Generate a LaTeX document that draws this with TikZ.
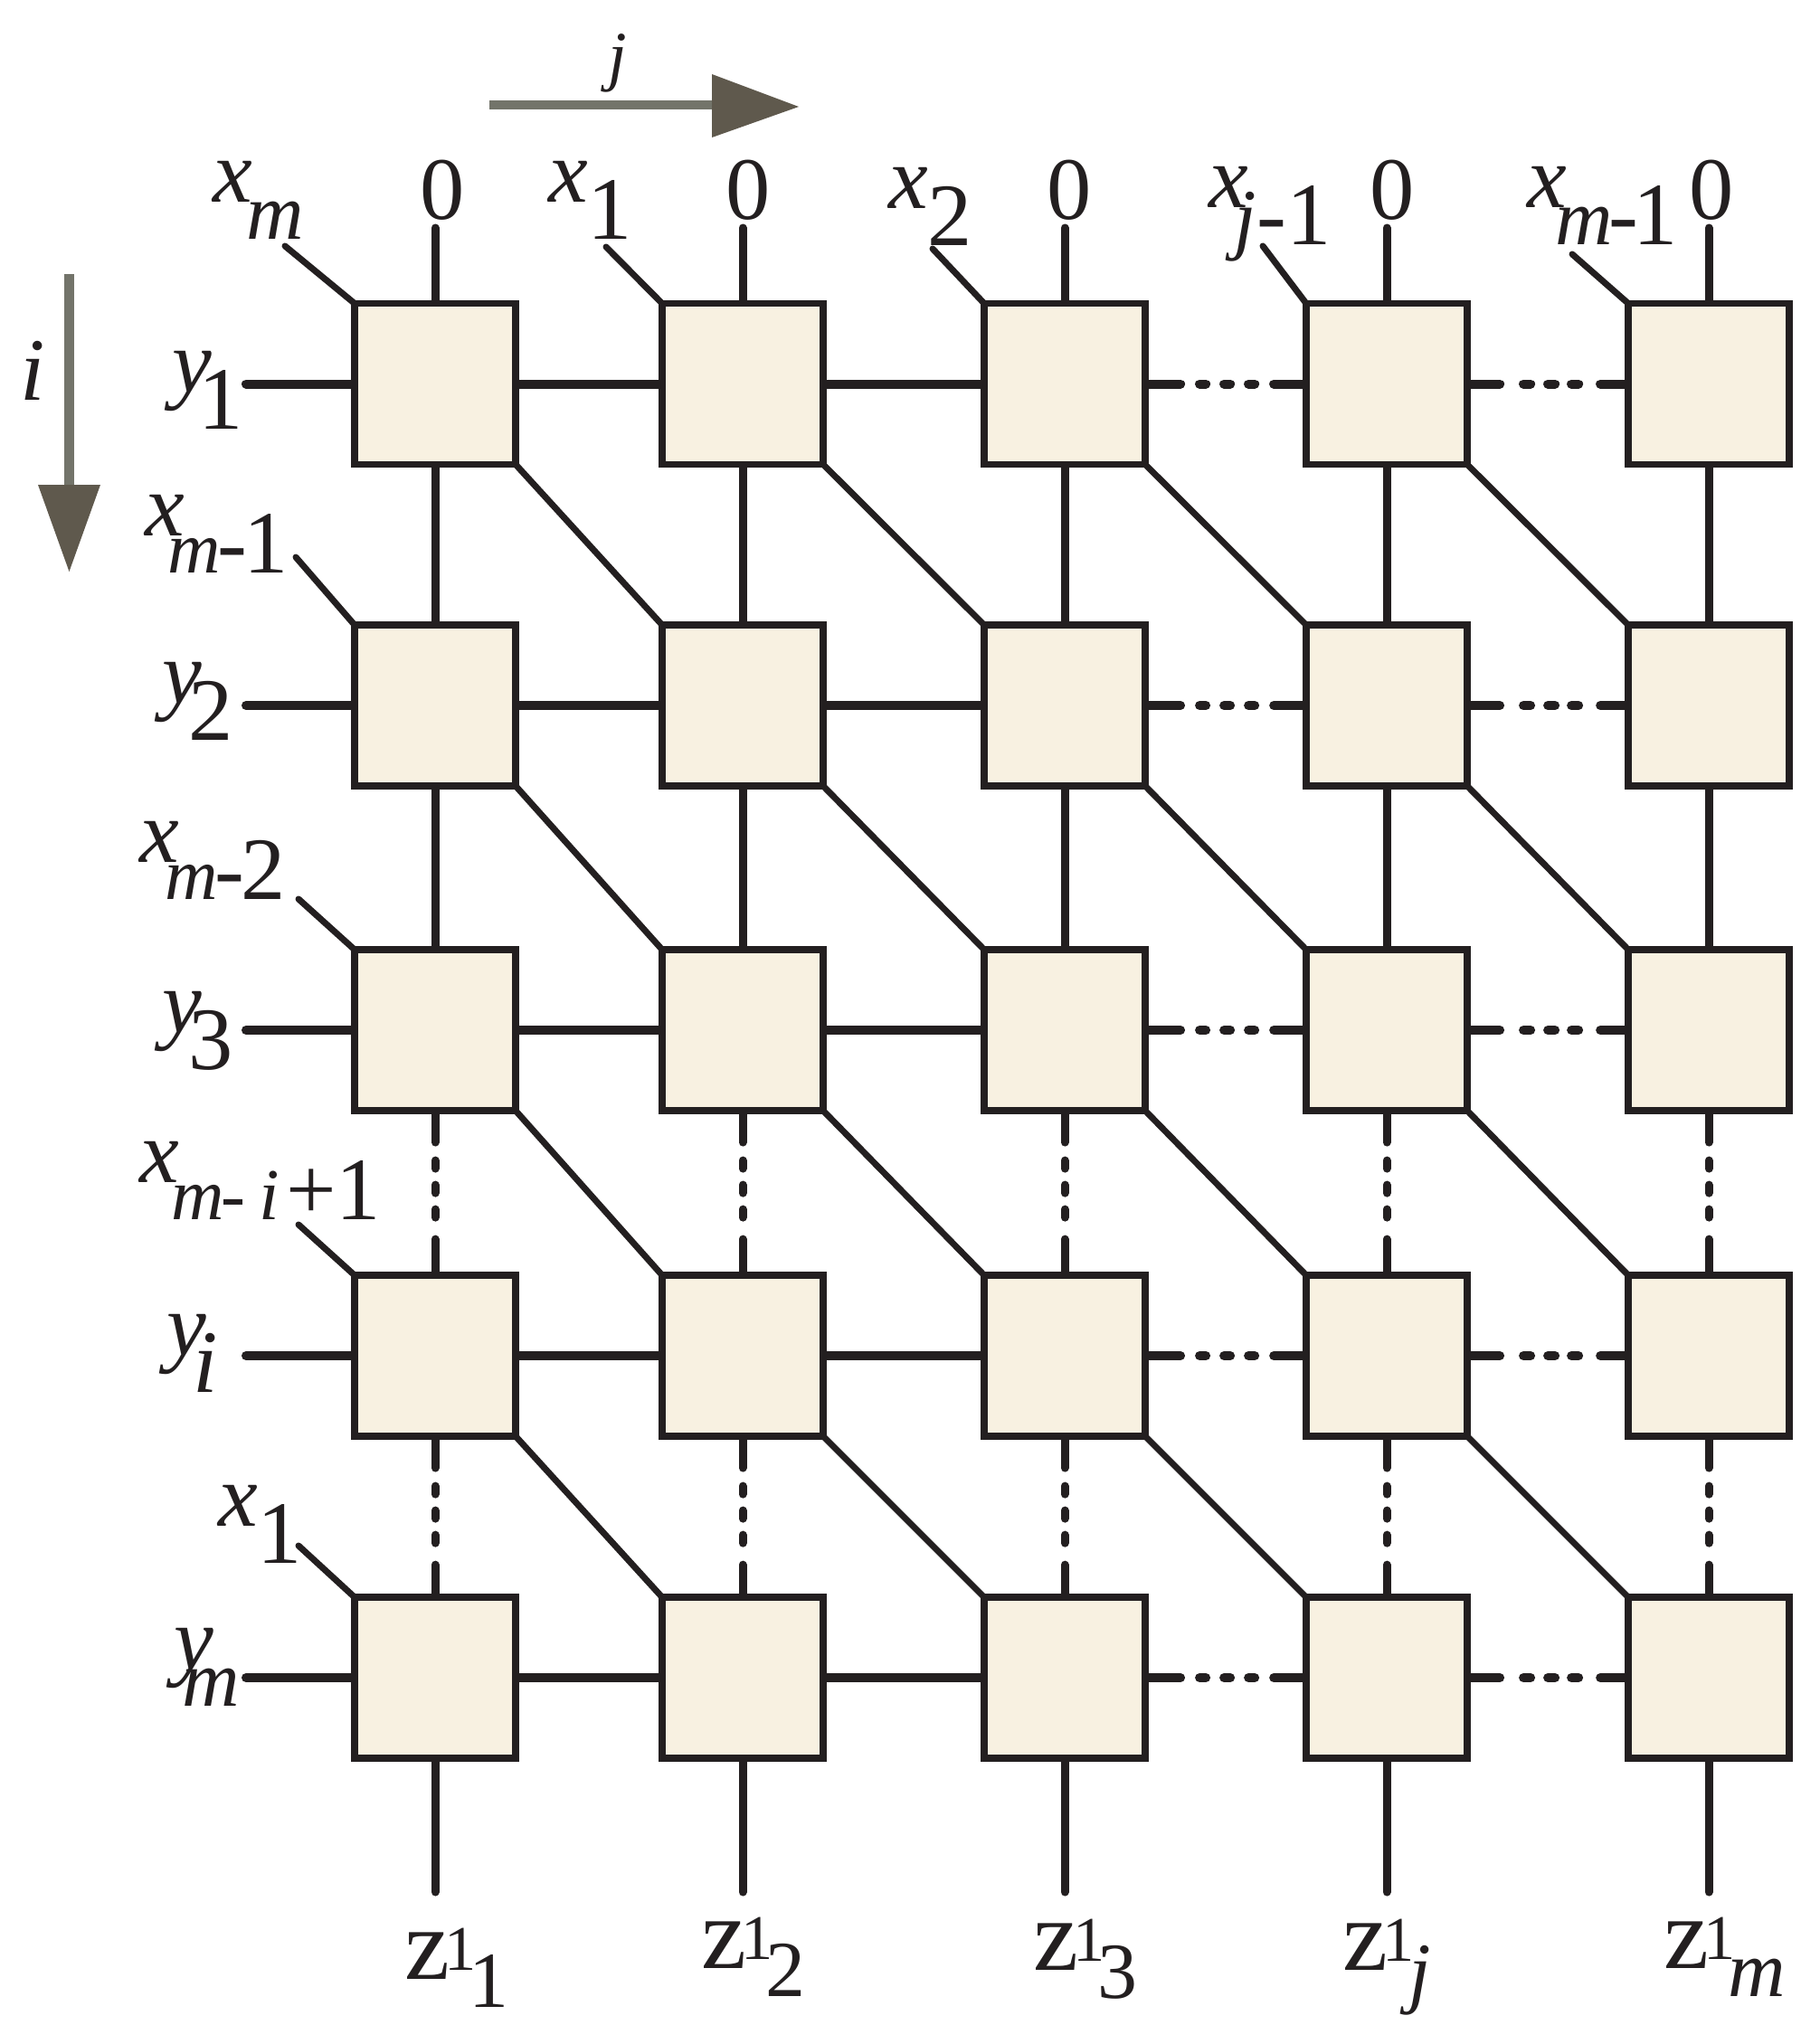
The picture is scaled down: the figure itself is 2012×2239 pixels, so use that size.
\documentclass[tikz,border=0pt]{standalone}
\usepackage{fontspec}
\setmainfont{Liberation Serif}
\usetikzlibrary{backgrounds}
\definecolor{boxfill}{RGB}{248,241,225}
\definecolor{ink}{RGB}{35,31,32}
\definecolor{arrline}{RGB}{115,116,106}
\definecolor{arrhead}{RGB}{95,89,77}
\newcommand\dn[1]{\raisebox{-0.42em}{#1}}
\newcommand\sm[1]{{\fontsize{25}{27}\selectfont\textit{#1}}}
\newcommand\ssm[1]{{\fontsize{23}{25}\selectfont #1}}
\newcommand\ysub[1]{\textit{y}\kern-0.14em\dn{#1}}
\newcommand\zlab[2][0cm]{{\fontsize{32}{34}\selectfont z}\kern-0.05cm\raisebox{0.1cm}{\fontsize{20}{22}\selectfont 1}\kern-0.09cm\kern#1\raisebox{-0.31cm}{\fontsize{25}{27}\selectfont #2}}
\tikzset{
 cell/.style={draw=ink, fill=boxfill, line width=0.075cm, minimum width=1.78cm, minimum height=1.78cm, inner sep=0pt, outer sep=0pt},
 lbl/.style={inner sep=0pt, outer sep=0pt, anchor=base west, text=ink, font=\fontsize{28}{30}\selectfont},
 hwire/.style={draw=ink, line width=0.10cm, line cap=round},
 vwire/.style={draw=ink, line width=0.09cm, line cap=round},
 dwire/.style={draw=ink, line width=0.07cm, line cap=round},
 hdotsA/.style={hwire, dash pattern=on 0.39cm off 0.21cm on 0.07cm off 0.20cm on 0.07cm off 0.20cm on 0.07cm off 0.21cm on 0.36cm},
 hdotsB/.style={hwire, dash pattern=on 0.36cm off 0.26cm on 0.08cm off 0.19cm on 0.08cm off 0.18cm on 0.08cm off 0.24cm on 0.31cm},
 vdash/.style={vwire, dash pattern=on 0.35cm off 0.20cm on 0.09cm off 0.18cm on 0.09cm off 0.18cm on 0.09cm off 0.24cm on 0.36cm},
}
\begin{document}
\begin{tikzpicture}[x=0.01cm,y=-0.01cm]
\path[use as bounding box] (0,0) rectangle (2012,2239);
% cells
\foreach \r/\y in {1/424.5,2/780,3/1139,4/1499,5/1855}{
  \foreach \c/\x in {1/481,2/821,3/1177,4/1533,5/1889}{
    \node[cell] (b\r\c) at (\x,\y) {};
  }
}
% free ends
\foreach \c/\x in {1/481,2/821,3/1177,4/1533,5/1889}{
  \coordinate (tv\c) at (\x,252);
  \coordinate (bv\c) at (\x,2092);
}
\foreach \r/\y in {1/424.5,2/780,3/1139,4/1499,5/1855}{
  \coordinate (yl\r) at (272,\y);
}
\coordinate (xt1) at (315,272);
\coordinate (xt2) at (670,273);
\coordinate (xt3) at (1031,275);
\coordinate (xt4) at (1396,272);
\coordinate (xt5) at (1738,281);
\coordinate (xl2) at (327,616);
\coordinate (xl3) at (330,994);
\coordinate (xl4) at (330,1354);
\coordinate (xl5) at (330,1709);
% labels, top row
\node[lbl] (lx1) at (235,223) {\textit{x}\kern-0.06em\dn{\sm{m}}};
\node[lbl] (lx2) at (606,223) {\textit{x}\dn{1}};
\node[lbl] (lx3) at (982,230) {\textit{x}\dn{2}};
\node[lbl] (lx4) at (1336,229) {\textit{x}\kern-0.15em\dn{\sm{j}-1}};
\node[lbl] (lx5) at (1688,229) {\textit{x}\kern-0.12em\dn{\sm{m}\kern-0.05em-\kern-0.06em1}};
\foreach \c/\x in {1/489,2/827,3/1182,4/1539,5/1892}{
  \node[lbl, anchor=base] (zero\c) at (\x,242) {0};
}
% labels, left column
\node[lbl] (ly1) at (190,433) {\ysub{1}};
\node[lbl] (ly2) at (179,777) {\ysub{2}};
\node[lbl] (ly3) at (179,1141) {\ysub{3}};
\node[lbl] (ly4) at (184,1498) {\ysub{\textit{i}}};
\node[lbl] (ly5) at (192,1845) {\textit{y}\kern-0.35em\dn{\sm{m}}};
\node[lbl] (lxl2) at (160,592) {\textit{x}\kern-0.18em\dn{\ssm{\textit{m}}\kern-0.04em-\kern-0.04em1}};
\node[lbl] (lxl3) at (154,953) {\textit{x}\kern-0.15em\dn{\ssm{\textit{m}}\kern-0.04em-\kern-0.04em2}};
\node[lbl] (lxl4) at (154,1307) {\textit{x}\kern-0.08em\dn{\ssm{\textit{m}\kern-0.05em-}\kern0.16em\ssm{\textit{i}}\kern0.07em+1}};
\node[lbl] (lxl5) at (241,1687) {\textit{x}\dn{1}};
% labels, bottom row
\node[lbl] (lz1) at (447,2188) {\zlab{1}};
\node[lbl] (lz2) at (775,2176) {\zlab{2}};
\node[lbl] (lz3) at (1142,2178) {\zlab{3}};
\node[lbl] (lz4) at (1484,2178) {\zlab[0.02cm]{\textit{j}}};
\node[lbl] (lz5) at (1839,2176) {\zlab{\textit{m}}};
% direction labels
\node[lbl, anchor=base] (li) at (36,442) {\textit{i}};
\node[lbl, anchor=base, font=\fontsize{21}{23}\selectfont] (lj) at (683,87) {\textit{j}};
% direction arrows
\draw[arrline, line width=0.095cm] (541,116) -- (790,116);
\fill[arrhead] (787,82) -- (883,118) -- (787,152) -- cycle;
\draw[arrline, line width=0.11cm] (76.5,303) -- (76.5,539);
\fill[arrhead] (42,536) -- (76.5,632) -- (111,536) -- cycle;
% wires
\begin{scope}[on background layer]
\foreach \r in {1,...,5}{
  \draw[hwire] (yl\r) -- (b\r1.west);
  \draw[hwire] (b\r1.east) -- (b\r2.west);
  \draw[hwire] (b\r2.east) -- (b\r3.west);
  \draw[hdotsA] (b\r3.east) -- (b\r4.west);
  \draw[hdotsB] (b\r4.east) -- (b\r5.west);
}
\foreach \c in {1,...,5}{
  \draw[vwire] (tv\c) -- (b1\c.north);
  \draw[vwire] (b1\c.south) -- (b2\c.north);
  \draw[vwire] (b2\c.south) -- (b3\c.north);
  \draw[vdash] (b3\c.south) -- (b4\c.north);
  \draw[vdash] (b4\c.south) -- (b5\c.north);
  \draw[vwire] (b5\c.south) -- (bv\c);
  \draw[dwire] (xt\c) -- (b1\c.north west);
}
\foreach \r in {2,...,5}{
  \draw[dwire] (xl\r) -- (b\r1.north west);
}
\foreach \r in {1,...,4}{
  \foreach \c in {1,...,4}{
    \pgfmathtruncatemacro\rn{\r+1}
    \pgfmathtruncatemacro\cn{\c+1}
    \draw[dwire] (b\r\c.south east) -- (b\rn\cn.north west);
  }
}
\end{scope}
\end{tikzpicture}
\end{document}
